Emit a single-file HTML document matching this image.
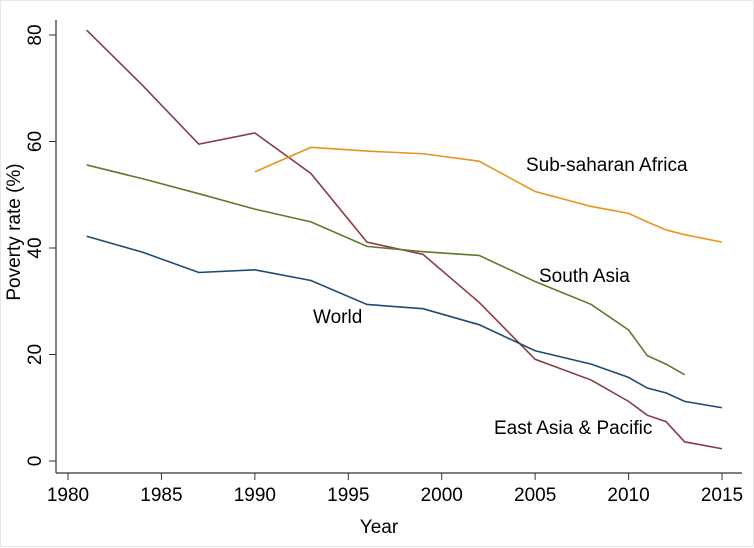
<!DOCTYPE html>
<html><head><meta charset="utf-8"><style>
html,body{margin:0;padding:0;background:#fff}
svg{display:block;font-family:"Liberation Sans",Arial,sans-serif}
</style></head><body>
<svg id="chart" width="754" height="548">
<rect x="0.5" y="0.5" width="753" height="546" fill="#fff" stroke="#e6e6e6"/>
<g id="axes"></g><g id="series"></g>
</svg>
<script>
const years=[1981,1984,1987,1990,1993,1996,1999,2002,2005,2008,2010,2011,2012,2013,2015];
const world=[42.2,39.2,35.4,35.9,33.9,29.4,28.6,25.6,20.7,18.2,15.7,13.7,12.8,11.2,10.0];
const eap=[80.9,70.5,59.5,61.6,54.0,41.1,38.8,29.8,19.1,15.2,11.2,8.6,7.4,3.6,2.3];
const saYears=[1981,1984,1987,1990,1993,1996,1999,2002,2005,2008,2010,2011,2012,2013];
const sa=[55.6,53.0,50.2,47.3,44.9,40.3,39.3,38.6,33.7,29.4,24.6,19.8,18.2,16.2];
const ssaYears=[1990,1993,1996,1999,2002,2005,2008,2010,2011,2012,2013,2015];
const ssa=[54.3,58.9,58.2,57.7,56.3,50.6,47.8,46.5,44.9,43.4,42.5,41.1];
const xTicks=[1980,1985,1990,1995,2000,2005,2010,2015];
const yTicks=[0,20,40,60,80];
const NS='http://www.w3.org/2000/svg';
const X=v=>68+(v-1980)*(654/35);
const Y=v=>461-v*(426/80);
function mk(t,a,p){const e=document.createElementNS(NS,t);for(const k in a)e.setAttribute(k,a[k]);p.appendChild(e);return e;}
const ax=document.getElementById('axes'),sg=document.getElementById('series');
let l=mk('line',{x1:56,y1:20,x2:56,y2:473,stroke:'#333','stroke-width':1.2},ax);


l=mk('line',{x1:56,y1:473,x2:742,y2:473,stroke:'#333','stroke-width':1.2},ax);


xTicks.forEach(t=>{
 mk('line',{x1:X(t),y1:473,x2:X(t),y2:480,stroke:'#333'},ax);
 const tx=mk('text',{x:X(t),y:501,'text-anchor':'middle','font-size':19},ax);tx.textContent=t;
 
 
});
yTicks.forEach(t=>{
 mk('line',{x1:49,y1:Y(t),x2:56,y2:Y(t),stroke:'#333'},ax);
 const tx=mk('text',{x:41,y:Y(t),'text-anchor':'middle','font-size':19,transform:`rotate(-90 41 ${Y(t)})`},ax);tx.textContent=t;
 
 
});
let tt=mk('text',{x:379,y:533,'text-anchor':'middle','font-size':19},ax);tt.textContent='Year';


tt=mk('text',{x:20,y:232,'text-anchor':'middle','font-size':19,transform:'rotate(-90 20 232)'},ax);tt.textContent='Poverty rate (%)';


function line(xs,ys,c,name){
 const p=mk('polyline',{points:xs.map((x,i)=>X(x)+','+Y(ys[i])).join(' '),fill:'none',stroke:c,'stroke-width':1.6},sg);
 
 
}
line(years,eap,'#8c3b46','east-asia-pacific-line');
line(ssaYears,ssa,'#e8941e','sub-saharan-africa-line');
line(saYears,sa,'#5d7a2e','south-asia-line');
line(years,world,'#1f4a72','world-line');
function lab(x,y,s,name){const t=mk('text',{x:x,y:y,'font-size':19},sg);t.textContent=s;
 
 }
lab(526,171,'Sub-saharan Africa','label-ssa');
lab(539,282,'South Asia','label-south-asia');
lab(313,323,'World','label-world');
lab(494,434,'East Asia & Pacific','label-eap');
</script>
</body></html>
